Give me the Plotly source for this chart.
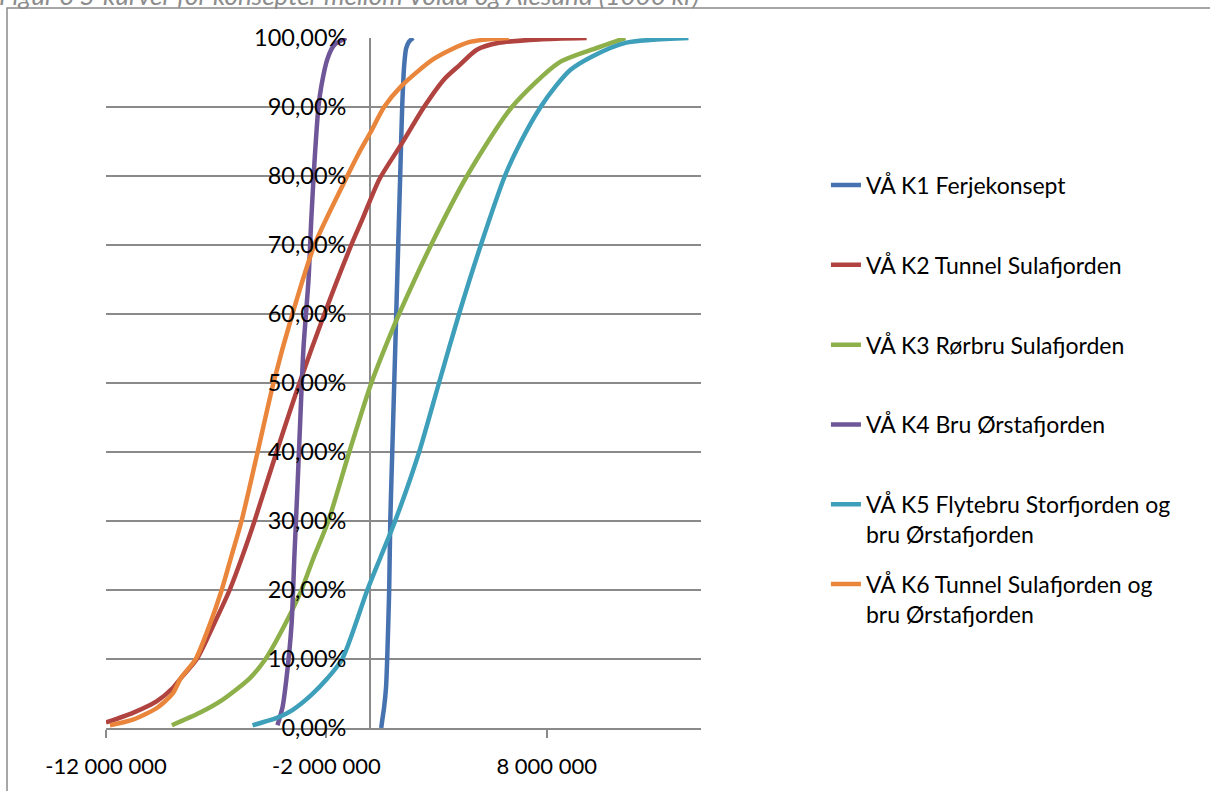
import plotly.graph_objects as go

# S-curves, values in NOK (x) and cumulative share (y)
names = [
    "VÅ K1 Ferjekonsept",
    "VÅ K2 Tunnel Sulafjorden",
    "VÅ K3 Rørbru Sulafjorden",
    "VÅ K4 Bru Ørstafjorden",
    "VÅ K5 Flytebru Storfjorden og<br>bru Ørstafjorden",
    "VÅ K6 Tunnel Sulafjorden og<br>bru Ørstafjorden",
]
colors = ["#4672B0", "#B0433F", "#8EB04A", "#6F5698", "#3E9FBA", "#E9863C"]

k1_y = [0.0, 0.01, 0.03, 0.06, 0.10, 0.20, 0.30, 0.40, 0.50, 0.60, 0.70, 0.80, 0.90, 0.96, 0.985, 0.995, 1.0]
k1_x = [0.49e6, 0.53e6, 0.62e6, 0.71e6, 0.76e6, 0.85e6, 0.90e6, 0.99e6, 1.08e6, 1.17e6, 1.26e6,
        1.35e6, 1.44e6, 1.53e6, 1.62e6, 1.76e6, 1.94e6]

k2_y = [0.008, 0.022, 0.039, 0.058, 0.072, 0.10, 0.15, 0.20, 0.25, 0.30, 0.40, 0.50, 0.60, 0.70,
        0.737, 0.795, 0.848, 0.90, 0.94, 0.96, 0.983, 0.993, 0.998, 1.0]
k2_x = [-12.00e6, -10.78e6, -9.69e6, -8.97e6, -8.61e6, -7.88e6, -7.11e6, -6.39e6, -5.80e6, -5.26e6,
        -4.26e6, -3.22e6, -2.09e6, -0.87e6, -0.37e6, 0.40e6, 1.44e6, 2.43e6, 3.34e6, 4.02e6, 4.83e6,
        5.83e6, 7.64e6, 9.81e6]

k3_y = [0.004, 0.022, 0.04, 0.072, 0.10, 0.163, 0.20, 0.246, 0.30, 0.40, 0.50, 0.58, 0.60, 0.70,
        0.80, 0.90, 0.964, 0.983, 1.0]
k3_x = [-9.01e6, -7.75e6, -6.75e6, -5.48e6, -4.76e6, -3.67e6, -3.13e6, -2.59e6, -1.91e6, -0.96e6,
        0.04e6, 1.03e6, 1.30e6, 2.75e6, 4.38e6, 6.42e6, 8.54e6, 10.04e6, 11.57e6]

k4_y = [0.004, 0.03, 0.072, 0.15, 0.25, 0.35, 0.45, 0.55, 0.65, 0.74, 0.82, 0.90, 0.93, 0.97, 0.99, 1.0]
k4_x = [-4.22e6, -3.99e6, -3.81e6, -3.58e6, -3.45e6, -3.31e6, -3.18e6, -3.04e6, -2.81e6, -2.68e6,
        -2.54e6, -2.36e6, -2.23e6, -1.95e6, -1.64e6, -1.10e6]

k5_y = [0.004, 0.015, 0.026, 0.048, 0.072, 0.10, 0.20, 0.25, 0.30, 0.40, 0.50, 0.60, 0.70, 0.80,
        0.85, 0.90, 0.93, 0.954, 0.973, 0.993, 1.0]
k5_x = [-5.35e6, -4.22e6, -3.54e6, -2.68e6, -1.95e6, -1.28e6, -0.14e6, 0.49e6, 1.12e6, 2.21e6,
        3.11e6, 4.02e6, 5.01e6, 6.10e6, 6.83e6, 7.72e6, 8.40e6, 9.08e6, 10.04e6, 11.57e6, 14.43e6]

k6_y = [0.004, 0.012, 0.029, 0.05, 0.072, 0.10, 0.15, 0.20, 0.25, 0.30, 0.40, 0.50, 0.60, 0.70,
        0.785, 0.834, 0.863, 0.90, 0.93, 0.97, 0.994, 1.0]
k6_x = [-11.82e6, -10.78e6, -9.69e6, -8.97e6, -8.61e6, -7.93e6, -7.29e6, -6.75e6, -6.30e6, -5.85e6,
        -5.12e6, -4.40e6, -3.54e6, -2.54e6, -1.28e6, -0.51e6, 0.0, 0.62e6, 1.39e6, 2.89e6, 4.47e6,
        6.28e6]

x_ticks = [-12e6, -2e6, 8e6]
x_ticktext = ["-12 000 000", "-2 000 000", "8 000 000"]
y_ticks = [0, 0.1, 0.2, 0.3, 0.4, 0.5, 0.6, 0.7, 0.8, 0.9, 1.0]

title = "Figur 3 S-kurver for konsepter mellom Volda og Ålesund (1000 kr)"

series = [(k1_x, k1_y), (k2_x, k2_y), (k3_x, k3_y), (k4_x, k4_y), (k5_x, k5_y), (k6_x, k6_y)]

fig = go.Figure()
for i, (xs, ys) in enumerate(series):
    label = names[i]
    if "<br>" not in label:
        label = label + "<br>\u00a0"
    fig.add_trace(go.Scatter(
        x=xs, y=ys, mode="lines", name=label, legendgroup=f"g{i}",
        line=dict(color=colors[i], width=4.5, shape="spline", smoothing=0.7),
        cliponaxis=False, hoverinfo="skip",
    ))

grid = "#8A8A8A"
fig.update_layout(
    width=1210, height=791,
    margin=dict(l=106, r=509, t=38, b=61),
    paper_bgcolor="white", plot_bgcolor="white",
    font=dict(family="Lato", size=22, color="black"),
    separators=", ",
    showlegend=True,
    legend=dict(x=1.21, y=0.818, xanchor="left", yanchor="top",
                font=dict(size=23, family="Lato", color="black"),
                tracegroupgap=17, valign="top", bgcolor="rgba(0,0,0,0)"),
    xaxis=dict(range=[-12e6, 15e6], tickvals=x_ticks, ticktext=x_ticktext,
               showgrid=False, zeroline=True, zerolinecolor=grid, zerolinewidth=1.5,
               showline=True, linecolor=grid, linewidth=1.5,
               ticks="outside", ticklen=8, tickwidth=1.5, tickcolor=grid,
               ticklabelstandoff=10),
    yaxis=dict(range=[0, 1], tickvals=y_ticks, tickformat=".2%",
               anchor="free", position=12 / 27, side="left",
               tickfont=dict(size=23.5),
               showgrid=True, gridcolor=grid, gridwidth=1.5,
               zeroline=False, showline=False, ticks="",
               ticklabelstandoff=24),
)

# chart frame and (cropped) caption
fig.add_shape(type="rect", xref="paper", yref="paper",
              x0=(7 - 106) / 595, x1=(1215 - 106) / 595,
              y0=1 - (800 - 38) / 692, y1=1 + (38 - 8) / 692,
              line=dict(color=grid, width=1.5), layer="below")
fig.add_annotation(text="<i>" + title + "</i>", xref="paper", yref="paper",
                   x=(-3 - 106) / 595, y=1 + (38 - 13) / 692,
                   xanchor="left", yanchor="bottom", showarrow=False,
                   font=dict(size=26, color="#8C8C8C", family="Lato"))

fig.write_html("out.html", config={"displayModeBar": False},
               post_script="document.body.style.margin='0px';")
